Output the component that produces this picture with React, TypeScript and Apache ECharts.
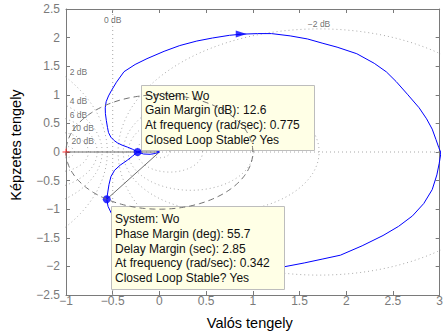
import React, { useEffect, useRef } from 'react';
import * as echarts from 'echarts';

const FONT = '"Liberation Sans", Arial, Helvetica, sans-serif';

// Nyquist curve, negative-frequency branch (upper half)
const upperRe = [0, -0.04, -0.1, -0.17, -0.234, -0.29, -0.343, -0.4, -0.45, -0.484, -0.52, -0.545, -0.556, -0.568, -0.578, -0.58, -0.57, -0.545, -0.515, -0.46, -0.379, -0.26, -0.133, 0.05, 0.218, 0.4, 0.568, 0.75, 0.88, 1.05, 1.2, 1.4, 1.586, 1.75, 1.902, 2.113, 2.3, 2.43, 2.534, 2.66, 2.78, 2.86, 2.92, 2.96, 2.99, 3.01];
const upperIm = [0, -0.025, -0.04, -0.035, 0, 0.05, 0.086, 0.12, 0.16, 0.2, 0.26, 0.34, 0.43, 0.55, 0.67, 0.773, 0.88, 0.98, 1.07, 1.22, 1.404, 1.53, 1.632, 1.76, 1.861, 1.94, 1.993, 2.04, 2.06, 2.07, 2.07, 2.03, 1.976, 1.9, 1.833, 1.718, 1.55, 1.4, 1.232, 1.0, 0.773, 0.58, 0.4, 0.22, 0.08, 0];

// positive-frequency branch (lower half)
const lowerRe = [0, -0.04, -0.1, -0.17, -0.234, -0.29, -0.343, -0.42, -0.48, -0.519, -0.54, -0.554, -0.564, -0.55, -0.515, -0.46, -0.379, -0.26, -0.133, 0.05, 0.218, 0.4, 0.568, 0.75, 0.95, 1.15, 1.341, 1.55, 1.75, 1.937, 2.17, 2.394, 2.56, 2.709, 2.83, 2.92, 2.97, 2.995, 3.01, 3.01];
const lowerIm = [0, 0.025, 0.04, 0.035, 0, -0.075, -0.143, -0.23, -0.32, -0.43, -0.57, -0.716, -0.826, -0.95, -1.07, -1.22, -1.404, -1.53, -1.632, -1.76, -1.861, -1.94, -1.99, -2.03, -2.05, -2.04, -2.005, -1.94, -1.87, -1.804, -1.64, -1.46, -1.3, -1.117, -0.9, -0.658, -0.4, -0.2, -0.05, 0];

const gainMarginPoint = [-0.234, 0];
const phaseMarginPoint = [-0.564, -0.826];
const arrowPoint = [0.876, 2.062];
const criticalPoint = [-1, 0];

// closed-loop magnitude grid (M-circles), in dB
const mCircleDb = [-20, -10, -6, -4, -2, 2, 4, 6, 10, 20];
const dbLabelText = ['0 dB', '\u22122 dB', '2 dB', '4 dB', '6 dB', '10 dB', '20 dB'];
const dbLabelRe = [-0.5, 1.709, -0.961, -0.961, -0.961, -0.94, -0.94];
const dbLabelIm = [2.3, 2.234, 1.392, 0.893, 0.648, 0.412, 0.184];

const gmTip = ['System: Wo', 'Gain Margin (dB): 12.6', 'At frequency (rad/sec): 0.775', 'Closed Loop Stable? Yes'];
const pmTip = ['System: Wo', 'Phase Margin (deg): 55.7', 'Delay Margin (sec): 2.85', 'At frequency (rad/sec): 0.342', 'Closed Loop Stable? Yes'];

const xMin = -1, xMax = 3, xStep = 0.5;
const yMin = -2.5, yMax = 2.5, yStep = 0.5;

function circle(cx: number, cy: number, r: number, n = 240): number[][] {
  const pts: number[][] = [];
  for (let i = 0; i <= n; i++) {
    const t = (i / n) * Math.PI * 2;
    pts.push([cx + r * Math.cos(t), cy + r * Math.sin(t)]);
  }
  return pts;
}

function mCircle(db: number): number[][] {
  const m = Math.pow(10, db / 20);
  const m2 = m * m;
  return circle(-m2 / (m2 - 1), 0, Math.abs(m / (m2 - 1)));
}

const fmt = (v: number) => String(+v.toFixed(2)).replace('-', '\u2212');

export default function App() {
  const ref = useRef<HTMLDivElement>(null);
  useEffect(() => {
    const chart = echarts.init(ref.current!, undefined, { renderer: 'svg' });
    const axisColor = '#7a7a7a';
    const dotted = { color: '#a8a8a8', width: 1, type: [1, 3] as any };
    const baseX = {
      type: 'value', min: xMin, max: xMax, interval: xStep,
      axisLine: { show: true, onZero: false, lineStyle: { color: axisColor } },
      axisTick: { show: true, inside: true, length: 4, lineStyle: { color: axisColor } },
      splitLine: { show: false },
    };
    const baseY = {
      type: 'value', min: yMin, max: yMax, interval: yStep,
      axisLine: { show: true, onZero: false, lineStyle: { color: axisColor } },
      axisTick: { show: true, inside: true, length: 4, lineStyle: { color: axisColor } },
      splitLine: { show: false },
    };

    const series: any[] = [];
    mCircleDb.forEach((db) => {
      series.push({ type: 'line', data: mCircle(db), showSymbol: false, symbol: 'none', silent: true, z: 2, lineStyle: dotted });
    });
    series.push({ type: 'line', data: [[-0.5, yMin], [-0.5, yMax]], showSymbol: false, symbol: 'none', silent: true, z: 2, lineStyle: dotted });
    series.push({ type: 'line', data: [[xMin, 0], [xMax, 0]], showSymbol: false, symbol: 'none', silent: true, z: 2, lineStyle: dotted });
    series.push({
      type: 'scatter', symbolSize: 0, silent: true, z: 3,
      data: dbLabelText.map((t, i) => ({
        value: [dbLabelRe[i], dbLabelIm[i]], name: t,
        label: i >= 2 ? { align: 'left' } : undefined,
      })),
      label: {
        show: true, position: 'inside', formatter: (p: any) => p.name,
        fontSize: 8.5, fontFamily: FONT, color: '#4a4a4a', verticalAlign: 'middle',
      },
    });
    series.push({ type: 'line', data: [criticalPoint, [0, 0]], showSymbol: false, symbol: 'none', silent: true, z: 3, lineStyle: { color: '#6e6e6e', width: 1 } });
    series.push({ type: 'line', data: [[0, 0], phaseMarginPoint], showSymbol: false, symbol: 'none', silent: true, z: 3, lineStyle: { color: '#6e6e6e', width: 1 } });
    series.push({ type: 'line', data: upperRe.map((x, i) => [x, upperIm[i]]), showSymbol: false, symbol: 'none', z: 4, lineStyle: { color: '#0000ff', width: 1 } });
    series.push({ type: 'line', data: lowerRe.map((x, i) => [x, lowerIm[i]]), showSymbol: false, symbol: 'none', z: 4, lineStyle: { color: '#0000ff', width: 1 } });
    series.push({ type: 'scatter', data: [gainMarginPoint, phaseMarginPoint], symbol: 'circle', symbolSize: 8, z: 6, itemStyle: { color: '#0000ff' } });
    series.push({ type: 'scatter', data: [arrowPoint], symbol: 'triangle', symbolSize: [7, 11], symbolRotate: -90, z: 6, itemStyle: { color: '#0000ff' } });
    series.push({
      type: 'scatter', data: [criticalPoint], clip: false, z: 6,
      symbol: 'path://M3,0H4V3H7V4H4V7H3V4H0V3H3Z', symbolSize: 7, itemStyle: { color: '#ff0000' },
    });
    series.push({ type: 'line', data: circle(0, 0, 1), showSymbol: false, symbol: 'none', silent: true, z: 12, lineStyle: { color: '#707070', width: 1, type: [6, 4] as any } });

    const tipStyle = { fill: '#ffffe6', stroke: '#bdbdbd', lineWidth: 1 };
    const graphic: any[] = [
      { type: 'rect', z: 10, shape: { x: 141.5, y: 85.5, width: 173, height: 65 }, style: tipStyle },
      { type: 'rect', z: 10, shape: { x: 111.5, y: 206.5, width: 173, height: 83 }, style: tipStyle },
    ];
    gmTip.forEach((t, i) => {
      graphic.push({ type: 'text', z: 13, x: 145, y: 95.5 + i * 14.7, style: { text: t, font: `12px ${FONT}`, fill: '#111', verticalAlign: 'middle' } });
    });
    pmTip.forEach((t, i) => {
      graphic.push({ type: 'text', z: 13, x: 115, y: 219 + i * 14.8, style: { text: t, font: `12px ${FONT}`, fill: '#111', verticalAlign: 'middle' } });
    });

    chart.setOption({
      animation: false,
      backgroundColor: '#ffffff',
      grid: { left: 64, top: 9, width: 380, height: 291, containLabel: false },
      xAxis: [
        {
          ...baseX, position: 'bottom', name: 'Valós tengely', nameLocation: 'middle', nameGap: 20,
          nameTextStyle: { fontSize: 14.5, color: '#000', fontFamily: FONT, padding: [0, 6, 0, 0] },
          axisLabel: { margin: 0, color: axisColor, fontSize: 12, fontFamily: FONT, formatter: fmt },
        },
        { ...baseX, position: 'top', axisLabel: { show: false } },
      ],
      yAxis: [
        {
          ...baseY, position: 'left', name: 'Képzetes tengely', nameLocation: 'middle', nameGap: 43,
          nameTextStyle: { fontSize: 14.5, color: '#000', fontFamily: FONT, padding: [0, 0, 0, 14] },
          axisLabel: { margin: 6, color: axisColor, fontSize: 12, fontFamily: FONT, formatter: fmt },
        },
        { ...baseY, position: 'right', axisLabel: { show: false } },
      ],
      series,
      graphic,
    });
    return () => chart.dispose();
  }, []);
  return <div ref={ref} style={{ position: 'absolute', left: 0, top: 0, width: 446, height: 335 }} />;
}
